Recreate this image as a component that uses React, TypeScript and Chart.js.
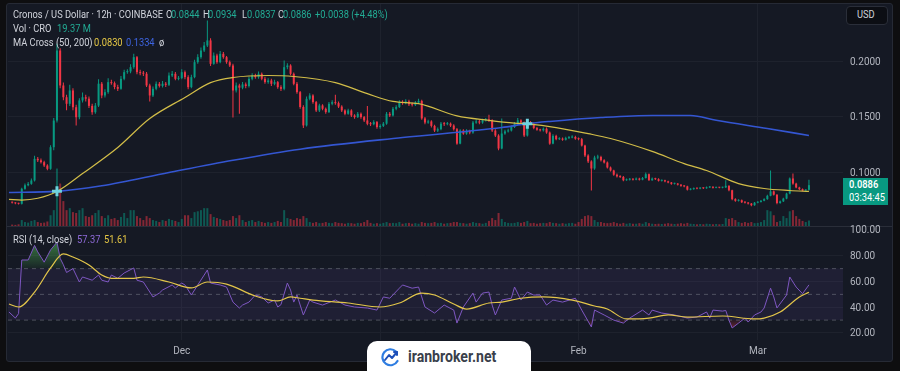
import React, { useEffect, useRef } from "react";
import { Chart, registerables } from "chart.js";

Chart.register(...registerables);

// ---------------- DATA ----------------
const firstOpen = 0.073;
const closes = [
  0.0728,0.0722,0.0718,0.0853,0.0885,0.0898,0.0928,0.1123,0.1110,0.1093,
  0.1063,0.1033,0.1228,0.1468,0.2099,0.1784,0.1678,0.1619,0.1739,0.1588,
  0.1498,0.1649,0.1678,0.1665,0.1600,0.1543,0.1603,0.1800,0.1694,0.1724,
  0.1814,0.1805,0.1770,0.1754,0.1844,0.1904,0.1910,0.1949,0.2039,0.1904,
  0.1895,0.1890,0.1784,0.1694,0.1754,0.1799,0.1780,0.1800,0.1790,0.1874,
  0.1889,0.1844,0.1850,0.1904,0.1859,0.1769,0.1859,0.1994,0.2039,0.2099,
  0.2144,0.2190,0.1979,0.2054,0.1994,0.2069,0.2039,0.1994,0.1964,0.1739,
  0.1784,0.1764,0.1794,0.1779,0.1844,0.1874,0.1859,0.1889,0.1844,0.1814,
  0.1829,0.1799,0.1814,0.1769,0.1754,0.1949,0.1964,0.1889,0.1799,0.1724,
  0.1590,0.1424,0.1664,0.1694,0.1634,0.1559,0.1604,0.1574,0.1544,0.1619,
  0.1634,0.1625,0.1594,0.1559,0.1529,0.1559,0.1514,0.1499,0.1529,0.1499,
  0.1469,0.1439,0.1435,0.1454,0.1409,0.1420,0.1440,0.1529,0.1514,0.1574,
  0.1589,0.1634,0.1625,0.1640,0.1615,0.1610,0.1630,0.1645,0.1487,0.1450,
  0.1460,0.1420,0.1378,0.1390,0.1440,0.1435,0.1440,0.1423,0.1390,0.1260,
  0.1378,0.1350,0.1375,0.1360,0.1450,0.1460,0.1450,0.1470,0.1475,0.1470,
  0.1378,0.1333,0.1216,0.1351,0.1370,0.1378,0.1410,0.1440,0.1470,0.1450,
  0.1333,0.1450,0.1440,0.1400,0.1385,0.1380,0.1395,0.1360,0.1260,0.1330,
  0.1300,0.1305,0.1295,0.1310,0.1315,0.1320,0.1305,0.1300,0.1243,0.1153,
  0.1100,0.1036,0.1135,0.1140,0.1110,0.1090,0.1045,0.1018,0.0980,0.0965,
  0.0960,0.0930,0.0935,0.0940,0.0935,0.0945,0.0935,0.0950,0.0985,0.0930,
  0.0945,0.0940,0.0925,0.0930,0.0920,0.0910,0.0898,0.0900,0.0890,0.0880,
  0.0875,0.0845,0.0850,0.0858,0.0855,0.0860,0.0858,0.0865,0.0870,0.0862,
  0.0865,0.0863,0.0866,0.0880,0.0840,0.0760,0.0745,0.0750,0.0732,0.0728,
  0.0720,0.0705,0.0728,0.0735,0.0745,0.0760,0.0790,0.0830,0.0800,0.0725,
  0.0740,0.0765,0.0810,0.0946,0.0900,0.0865,0.0850,0.0838,0.0844,0.0886,
];
const highs = [
  0.0738,0.0733,0.0728,0.0862,0.0900,0.0915,0.0945,0.1150,0.1140,0.1125,
  0.1105,0.1075,0.1245,0.1490,0.2160,0.2120,0.1810,0.1700,0.1790,0.1760,
  0.1610,0.1670,0.1720,0.1700,0.1685,0.1620,0.1625,0.1840,0.1815,0.1750,
  0.1850,0.1835,0.1820,0.1790,0.1870,0.1925,0.1930,0.1975,0.2070,0.2050,
  0.1925,0.1915,0.1905,0.1800,0.1775,0.1820,0.1815,0.1825,0.1815,0.1900,
  0.1915,0.1905,0.1870,0.1930,0.1920,0.1875,0.1880,0.2015,0.2065,0.2125,
  0.2175,0.2370,0.2210,0.2080,0.2070,0.2095,0.2085,0.2050,0.2010,0.1980,
  0.1810,0.1800,0.1815,0.1810,0.1865,0.1895,0.1890,0.1910,0.1900,0.1860,
  0.1850,0.1845,0.1835,0.1825,0.1785,0.2010,0.1985,0.1975,0.1900,0.1815,
  0.1735,0.1605,0.1685,0.1715,0.1705,0.1645,0.1620,0.1615,0.1585,0.1635,
  0.1650,0.1700,0.1640,0.1605,0.1570,0.1575,0.1570,0.1525,0.1545,0.1540,
  0.1510,0.1600,0.1455,0.1470,0.1465,0.1435,0.1455,0.1545,0.1545,0.1590,
  0.1605,0.1650,0.1650,0.1660,0.1655,0.1630,0.1645,0.1665,0.1655,0.1500,
  0.1475,0.1470,0.1430,0.1405,0.1455,0.1455,0.1455,0.1450,0.1435,0.1400,
  0.1390,0.1390,0.1390,0.1385,0.1465,0.1480,0.1475,0.1485,0.1490,0.1520,
  0.1480,0.1390,0.1345,0.1486,0.1385,0.1395,0.1425,0.1455,0.1490,0.1480,
  0.1460,0.1470,0.1465,0.1450,0.1410,0.1395,0.1405,0.1405,0.1370,0.1345,
  0.1340,0.1318,0.1315,0.1322,0.1328,0.1335,0.1330,0.1315,0.1310,0.1250,
  0.1165,0.1110,0.1150,0.1160,0.1150,0.1120,0.1100,0.1055,0.1025,0.0990,
  0.0975,0.0968,0.0945,0.0950,0.0948,0.0955,0.0952,0.0960,0.1000,0.0990,
  0.0955,0.0952,0.0948,0.0938,0.0935,0.0926,0.0915,0.0908,0.0905,0.0896,
  0.0886,0.0880,0.0857,0.0864,0.0863,0.0866,0.0865,0.0873,0.0878,0.0875,
  0.0871,0.0870,0.0872,0.0930,0.0885,0.0845,0.0768,0.0758,0.0756,0.0740,
  0.0734,0.0725,0.0735,0.0742,0.0752,0.0768,0.0800,0.1018,0.0838,0.0805,
  0.0748,0.0772,0.0818,0.0955,0.0990,0.0908,0.0872,0.0856,0.0850,0.0934,
];
const lows = [
  0.0720,0.0715,0.0712,0.0712,0.0845,0.0875,0.0890,0.0920,0.1095,0.1080,
  0.1050,0.1020,0.1025,0.1200,0.1450,0.1760,0.1650,0.1560,0.1600,0.1560,
  0.1423,0.1480,0.1630,0.1640,0.1580,0.1520,0.1530,0.1590,0.1670,0.1675,
  0.1710,0.1790,0.1750,0.1735,0.1745,0.1830,0.1890,0.1895,0.1935,0.1885,
  0.1875,0.1870,0.1770,0.1640,0.1680,0.1740,0.1765,0.1765,0.1770,0.1780,
  0.1860,0.1830,0.1830,0.1840,0.1840,0.1750,0.1760,0.1850,0.1980,0.2025,
  0.2085,0.2130,0.1960,0.1970,0.1980,0.1985,0.2025,0.1980,0.1950,0.1496,
  0.1720,0.1530,0.1750,0.1760,0.1765,0.1830,0.1845,0.1845,0.1830,0.1800,
  0.1800,0.1780,0.1785,0.1755,0.1735,0.1740,0.1930,0.1875,0.1785,0.1710,
  0.1575,0.1400,0.1415,0.1650,0.1620,0.1545,0.1545,0.1560,0.1530,0.1535,
  0.1605,0.1610,0.1580,0.1545,0.1515,0.1520,0.1500,0.1485,0.1490,0.1485,
  0.1455,0.1425,0.1420,0.1425,0.1395,0.1395,0.1410,0.1430,0.1500,0.1505,
  0.1560,0.1580,0.1610,0.1615,0.1600,0.1595,0.1600,0.1620,0.1475,0.1435,
  0.1440,0.1405,0.1365,0.1365,0.1380,0.1420,0.1425,0.1410,0.1378,0.1250,
  0.1255,0.1340,0.1340,0.1345,0.1350,0.1440,0.1435,0.1440,0.1460,0.1455,
  0.1365,0.1320,0.1200,0.1210,0.1340,0.1360,0.1370,0.1400,0.1430,0.1440,
  0.1320,0.1325,0.1430,0.1390,0.1375,0.1370,0.1370,0.1350,0.1250,0.1255,
  0.1290,0.1292,0.1285,0.1288,0.1302,0.1308,0.1295,0.1290,0.1235,0.1140,
  0.1085,0.0838,0.1025,0.1120,0.1100,0.1080,0.1035,0.1008,0.0970,0.0955,
  0.0950,0.0922,0.0925,0.0928,0.0928,0.0930,0.0928,0.0930,0.0945,0.0925,
  0.0925,0.0932,0.0918,0.0918,0.0912,0.0903,0.0890,0.0892,0.0882,0.0872,
  0.0868,0.0838,0.0840,0.0845,0.0849,0.0850,0.0852,0.0853,0.0860,0.0856,
  0.0857,0.0857,0.0858,0.0860,0.0832,0.0750,0.0737,0.0738,0.0725,0.0720,
  0.0712,0.0695,0.0700,0.0722,0.0730,0.0740,0.0755,0.0785,0.0792,0.0715,
  0.0718,0.0735,0.0760,0.0805,0.0890,0.0858,0.0842,0.0830,0.0832,0.0837,
];
// volume in millions of CRO
const volumesM = [
  5,4,6,21,14,12,18,21,14,11,
  12,16,38,56,203,150,88,56,63,49,
  46,56,63,35,32,38,46,56,35,28,
  38,25,28,21,32,46,28,56,56,35,
  28,21,35,28,21,18,14,21,18,25,
  21,18,14,25,38,38,28,49,52,56,
  63,63,42,32,28,25,21,18,21,35,
  28,38,21,14,18,21,14,18,14,11,
  14,11,14,18,14,56,28,25,21,28,
  25,35,28,14,11,14,10,11,14,11,
  10,14,11,10,8,11,10,8,11,10,
  14,21,11,8,10,8,11,14,10,11,
  10,14,8,10,11,8,10,8,14,11,
  10,11,14,10,11,8,10,11,14,14,
  11,10,8,10,14,11,10,8,11,18,
  28,21,46,25,14,11,10,11,14,11,
  14,18,10,11,8,10,11,10,14,11,
  10,8,10,8,10,11,8,14,25,35,
  38,35,21,14,14,11,10,11,14,10,
  8,11,8,10,8,8,10,8,14,10,
  8,7,8,7,8,10,8,7,8,10,
  8,11,8,7,6,7,6,8,7,6,
  7,6,7,28,25,28,21,14,11,14,
  11,14,10,11,14,21,56,52,38,14,
  18,35,28,52,56,35,25,18,14,19.37,
];
const ma50Bars = [-1,3,8,14,22,33,43,54,62,69,80,88,101,111,119,127,139,149,157,161,170,180,187,200,210,217,227,235,243,249];
const ma50Vals = [0.0758,0.0752,0.0768,0.0829,0.0990,0.1225,0.1486,0.1676,0.1810,0.1856,0.1874,0.1865,0.1810,0.1710,0.1640,0.1620,0.1510,0.1470,0.1445,0.1438,0.1405,0.1350,0.1306,0.1190,0.1080,0.1018,0.0900,0.0856,0.0838,0.0830];
const ma200Bars = [-1,14,28,49,69,90,122,153,161,168,184,200,212,220,236,249];
const ma200Vals = [0.0820,0.0830,0.0880,0.1000,0.1110,0.1210,0.1315,0.1405,0.1440,0.1460,0.1495,0.1514,0.1514,0.1470,0.1396,0.1334];
const crossBars = [14, 161];
const crossVals = [0.0830, 0.1440];

const rsiBars = [-1,1,2,3,5,7,8,10,12,14,15,16,17,19,21,22,25,27,28,30,31,33,35,38,39,41,44,46,47,50,51,53,54,56,58,60,61,62,65,67,69,71,72,74,76,78,80,82,83,84,86,87,88,89,91,93,94,97,101,104,107,111,114,116,118,121,122,125,127,128,129,132,135,138,139,141,144,145,147,149,150,151,153,156,157,159,161,163,165,167,169,172,176,178,181,182,185,188,191,193,197,199,200,203,207,211,214,217,218,219,222,223,224,225,227,229,230,232,234,235,237,238,239,242,243,245,247,249];
const rsiVals = [36.3,31.6,35.0,76.7,76.7,88.0,83.0,75.0,84.5,90.6,78.0,73.0,67.0,70.0,59.6,63.5,61.0,65.0,61.0,59.6,65.0,62.5,66.6,70.5,61.0,59.6,48.0,51.0,53.4,57.3,55.0,58.8,57.3,49.5,57.3,65.0,68.9,58.8,57.3,55.7,44.0,39.4,41.7,44.0,49.5,48.0,43.3,45.6,40.2,42.0,58.8,53.4,44.0,49.5,34.0,45.6,44.0,41.7,45.6,41.7,40.2,39.4,37.8,48.0,47.0,54.8,57.3,54.8,55.7,48.0,40.2,35.5,41.7,37.8,27.7,40.2,51.0,44.0,51.0,51.8,41.7,34.0,45.6,47.0,55.7,45.6,51.8,49.5,49.5,41.7,45.6,44.0,47.0,37.8,24.7,37.8,34.0,30.0,27.7,31.6,37.8,34.0,37.8,35.5,34.0,31.6,32.4,36.3,31.6,37.8,37.0,37.5,30.0,23.9,27.7,31.6,28.5,34.0,36.3,39.4,54.8,48.0,39.4,49.5,63.5,55.7,50.5,57.37];
const rsiMaBars = [-1,2,7,12,16,19,24,28,31,38,41,49,56,61,67,76,83,87,90,94,105,115,121,128,132,138,142,149,153,159,166,175,182,186,192,199,205,211,222,232,235,240,246,249];
const rsiMaVals = [42.5,40.2,51.8,70.5,81.4,79.0,72.8,65.0,62.5,62.5,63.5,59.6,55.0,59.6,58.0,48.7,44.9,48.0,47.0,45.6,43.3,40.2,43.3,51.0,49.5,42.5,38.6,43.3,44.0,47.0,48.0,45.6,41.0,38.6,30.9,31.6,34.0,32.4,33.2,30.9,31.6,36.3,48.0,51.61];
const rsiLevels = [70, 50, 30];

const priceTicks = [0.1, 0.15, 0.2];
const rsiTicks = [20, 40, 60, 80, 100];
const monthBars = [53, 115, 177, 233];
const monthLabels = ["Dec", "Jan", "Feb", "Mar"];

// ---------------- LAYOUT / STYLE ----------------
const X_MIN = -1.3;
const X_MAX = 259.64;
const PRICE_MIN = 0.0518;
const PRICE_MAX = 0.2518;
const VOL_MAX = 784;
const RSI_MIN = 14.56;
const RSI_MAX = 102.33;

const UP = "#089981";
const DOWN = "#f23645";
const GRID = "#1e222d";
const AXIS_TEXT = "#b2b5be";
const PANEL = "#151924";
const FONT = "Roboto, 'Noto Sans', sans-serif";

const pts = (xs: number[], ys: number[]) => xs.map((x, i) => ({ x, y: ys[i] }));

function noPad(s: any) {
  s.paddingTop = 0;
  s.paddingBottom = 0;
  s.paddingLeft = 0;
  s.paddingRight = 0;
}

function xAxis(labels: boolean): any {
  return {
    type: "linear",
    min: X_MIN,
    max: X_MAX,
    offset: false,
    afterBuildTicks: (s: any) => {
      s.ticks = monthBars.map((v) => ({ value: v }));
    },
    afterFit: (s: any) => {
      s.height = labels ? 22 : 0;
      noPad(s);
    },
    grid: { color: GRID, drawTicks: false, offset: false },
    border: { display: false },
    ticks: {
      display: labels,
      autoSkip: false,
      maxRotation: 0,
      padding: 5,
      color: AXIS_TEXT,
      font: { family: FONT, size: 10 },
      callback: (v: number) => {
        const k = monthBars.indexOf(v);
        return k >= 0 ? monthLabels[k] : "";
      },
    },
  };
}

function Txt(props: { x: number; y: number; c: string; children: any; w?: number; size?: number }) {
  return (
    <div
      style={{
        position: "absolute",
        left: props.x,
        top: props.y - 7,
        height: 14,
        lineHeight: "14px",
        fontSize: props.size || 10,
        fontWeight: props.w || 400,
        color: props.c,
        whiteSpace: "nowrap",
        transform: "scaleX(0.93)",
        transformOrigin: "left center",
      }}
    >
      {props.children}
    </div>
  );
}

export default function App() {
  const priceRef = useRef<HTMLCanvasElement>(null);
  const rsiRef = useRef<HTMLCanvasElement>(null);

  useEffect(() => {
    const opens = closes.map((c, i) => (i === 0 ? firstOpen : closes[i - 1]));
    const upFlags = closes.map((c, i) => c >= opens[i]);
    const candleColors = upFlags.map((u) => (u ? UP : DOWN));
    const volColors = upFlags.map((u) => (u ? "rgba(8,153,129,0.5)" : "rgba(242,54,69,0.5)"));

    const common: any = {
      responsive: false,
      animation: false,
      events: [],
      plugins: { legend: { display: false }, tooltip: { enabled: false } },
    };

    const priceChart = new Chart(priceRef.current as HTMLCanvasElement, {
      type: "bar",
      data: {
        datasets: [
          {
            type: "bar",
            data: volumesM.map((v, i) => ({ x: i, y: v })),
            yAxisID: "yVol",
            backgroundColor: volColors,
            barThickness: 2,
            grouped: false,
            inflateAmount: 0,
            order: 10,
          },
          {
            type: "bar",
            data: highs.map((h, i) => ({ x: i, y: [lows[i], h] })),
            yAxisID: "y",
            backgroundColor: candleColors,
            barThickness: 1,
            grouped: false,
            inflateAmount: 0,
            order: 6,
          },
          {
            type: "bar",
            data: closes.map((c, i) => ({ x: i, y: [opens[i], c] })),
            yAxisID: "y",
            backgroundColor: candleColors,
            barThickness: 2,
            minBarLength: 1,
            grouped: false,
            inflateAmount: 0,
            order: 5,
          },
          {
            type: "line",
            data: pts(ma200Bars, ma200Vals),
            yAxisID: "y",
            borderColor: "#3456d2",
            borderWidth: 1.6,
            pointRadius: 0,
            cubicInterpolationMode: "monotone",
            order: 3,
          },
          {
            type: "line",
            data: pts(ma50Bars, ma50Vals),
            yAxisID: "y",
            borderColor: "#d2bd48",
            borderWidth: 1.2,
            pointRadius: 0,
            cubicInterpolationMode: "monotone",
            order: 2,
          },
          {
            type: "line",
            data: pts(crossBars, crossVals),
            yAxisID: "y",
            showLine: false,
            pointStyle: "cross",
            pointRadius: 5,
            pointBorderWidth: 3,
            pointBorderColor: "#6fd2de",
            pointBackgroundColor: "#6fd2de",
            order: 1,
          },
        ] as any,
      },
      options: {
        ...common,
        layout: { padding: { left: 4, right: 0, top: 0, bottom: 0 }, autoPadding: false },
        scales: {
          x: xAxis(false),
          y: {
            type: "linear",
            position: "right",
            min: PRICE_MIN,
            max: PRICE_MAX,
            afterBuildTicks: (s: any) => {
              s.ticks = priceTicks.map((v) => ({ value: v }));
            },
            afterFit: (s: any) => {
              s.width = 50;
              noPad(s);
            },
            grid: { color: GRID, drawTicks: false },
            border: { display: false },
            ticks: {
              padding: 7,
              labelOffset: 1,
              color: AXIS_TEXT,
              font: { family: FONT, size: 10 },
              callback: (v: any) => Number(v).toFixed(4),
            },
          },
          yVol: { type: "linear", display: false, min: 0, max: VOL_MAX },
        },
      } as any,
    });

    const rsiChart = new Chart(rsiRef.current as HTMLCanvasElement, {
      type: "line",
      data: {
        datasets: [
          {
            data: [
              { x: X_MIN, y: rsiLevels[0] },
              { x: X_MAX, y: rsiLevels[0] },
            ],
            borderColor: "transparent",
            borderWidth: 0,
            pointRadius: 0,
            fill: { target: { value: rsiLevels[2] }, above: "rgba(126,87,194,0.1)", below: "rgba(126,87,194,0.1)" },
            order: 20,
          },
          ...rsiLevels.map((lv) => ({
            data: [
              { x: X_MIN, y: lv },
              { x: X_MAX, y: lv },
            ],
            borderColor: "rgba(120,123,134,0.55)",
            borderWidth: 1,
            borderDash: [4, 4],
            pointRadius: 0,
            fill: false,
            order: 15,
          })),
          {
            data: pts(rsiBars, rsiVals),
            borderColor: "transparent",
            borderWidth: 0,
            pointRadius: 0,
            fill: { target: { value: 30 }, above: "transparent", below: "rgba(242,54,69,0.25)" },
            order: 12,
          },
          {
            data: pts(rsiBars, rsiVals),
            borderColor: "#7e57c2",
            borderWidth: 1,
            pointRadius: 0,
            fill: { target: { value: 70 }, above: "rgba(76,175,80,0.5)", below: "transparent" },
            order: 2,
          },
          {
            data: pts(rsiMaBars, rsiMaVals),
            borderColor: "#e3c64a",
            borderWidth: 1.2,
            pointRadius: 0,
            cubicInterpolationMode: "monotone",
            fill: false,
            order: 1,
          },
        ] as any,
      },
      options: {
        ...common,
        layout: { padding: { left: 4, right: 0, top: 5, bottom: 0 }, autoPadding: false },
        scales: {
          x: xAxis(true),
          y: {
            type: "linear",
            position: "right",
            min: RSI_MIN,
            max: RSI_MAX,
            afterBuildTicks: (s: any) => {
              s.ticks = rsiTicks.map((v) => ({ value: v }));
            },
            afterFit: (s: any) => {
              s.width = 50;
              noPad(s);
            },
            grid: {
              color: (ctx: any) => (ctx.tick && ctx.tick.value === 100 ? "transparent" : GRID),
              drawTicks: false,
            },
            border: { display: false },
            ticks: {
              padding: 7,
              labelOffset: 1,
              color: AXIS_TEXT,
              font: { family: FONT, size: 10 },
              callback: (v: any) => Number(v).toFixed(2),
            },
          },
        },
      } as any,
    });

    // gradient for overbought / oversold fills
    const ys: any = rsiChart.scales.y;
    const ctx = rsiChart.ctx;
    const gUp = ctx.createLinearGradient(0, ys.getPixelForValue(100), 0, ys.getPixelForValue(70));
    gUp.addColorStop(0, "rgba(76,175,80,0.9)");
    gUp.addColorStop(1, "rgba(76,175,80,0.08)");
    const gDn = ctx.createLinearGradient(0, ys.getPixelForValue(30), 0, ys.getPixelForValue(15));
    gDn.addColorStop(0, "rgba(242,54,69,0.08)");
    gDn.addColorStop(1, "rgba(242,54,69,0.8)");
    (rsiChart.data.datasets[5] as any).fill = { target: { value: 70 }, above: gUp, below: "transparent" };
    (rsiChart.data.datasets[4] as any).fill = { target: { value: 30 }, above: "transparent", below: gDn };
    rsiChart.update();

    return () => {
      priceChart.destroy();
      rsiChart.destroy();
    };
  }, []);

  const LBL = "#d1d4dc";
  const GREEN = "#22ab94";
  const YEL = "#e6c845";
  const BLUE = "#3d64e0";
  const PURP = "#8e6ad8";

  return (
    <div
      style={{
        position: "fixed",
        left: 0,
        top: 0,
        width: 900,
        height: 371,
        background: "#0e0e10",
        overflow: "hidden",
        fontFamily: FONT,
      }}
    >
      <div
        style={{
          position: "absolute",
          left: 6,
          top: 3,
          width: 885,
          height: 357,
          background: PANEL,
          border: "1px solid #262a35",
          borderRadius: 3,
        }}
      />
      {/* pane separator */}
      <div style={{ position: "absolute", left: 7, top: 226, width: 885, height: 1, background: "#2a2e39" }} />

      <canvas ref={priceRef} width={889} height={222} style={{ position: "absolute", left: 4, top: 4, width: 889, height: 222 }} />
      <canvas ref={rsiRef} width={889} height={140} style={{ position: "absolute", left: 4, top: 222, width: 889, height: 140 }} />

      {/* legend line 1 */}
      <Txt x={13} y={15} c={LBL}>Cronos / US Dollar · 12h · COINBASE</Txt>
      <Txt x={166} y={15} c={LBL}>O</Txt>
      <Txt x={171} y={15} c={GREEN}>0.0844</Txt>
      <Txt x={203} y={15} c={LBL}>H</Txt>
      <Txt x={208} y={15} c={GREEN}>0.0934</Txt>
      <Txt x={242} y={15} c={LBL}>L</Txt>
      <Txt x={247} y={15} c={GREEN}>0.0837</Txt>
      <Txt x={278} y={15} c={LBL}>C</Txt>
      <Txt x={283} y={15} c={GREEN}>0.0886</Txt>
      <Txt x={315} y={15} c={GREEN}>+0.0038 (+4.48%)</Txt>
      {/* legend line 2 */}
      <Txt x={13} y={29} c={LBL}>Vol · CRO</Txt>
      <Txt x={57} y={29} c={GREEN}>19.37 M</Txt>
      {/* legend line 3 */}
      <Txt x={13} y={43} c={LBL}>MA Cross (50, 200)</Txt>
      <Txt x={94} y={43} c={YEL}>0.0830</Txt>
      <Txt x={126} y={43} c={BLUE}>0.1334</Txt>
      <Txt x={159} y={43} c={LBL}>ø</Txt>
      {/* RSI legend */}
      <Txt x={13} y={240} c={LBL}>RSI (14, close)</Txt>
      <Txt x={77} y={240} c={PURP}>57.37</Txt>
      <Txt x={104} y={240} c={YEL}>51.61</Txt>

      {/* USD button */}
      <div
        style={{
          position: "absolute",
          left: 846,
          top: 6,
          width: 42,
          height: 19,
          background: "#0c0e14",
          border: "1px solid #2a2e39",
          borderRadius: 4,
          boxSizing: "border-box",
        }}
      />
      <Txt x={857} y={15} c={LBL}>USD</Txt>

      {/* last price label */}
      <div style={{ position: "absolute", left: 843, top: 178, width: 45, height: 27, background: UP }} />
      <Txt x={849} y={185} c="#ffffff" w={600}>0.0886</Txt>
      <Txt x={849} y={198} c="#ffffff">03:34:45</Txt>

      {/* watermark */}
      <div
        style={{
          position: "absolute",
          left: 367,
          top: 341,
          width: 164,
          height: 40,
          background: "#ffffff",
          borderRadius: 10,
        }}
      />
      <svg style={{ position: "absolute", left: 380, top: 347 }} width="22" height="20" viewBox="0 0 22 20">
        <path d="M16 4.5 A8 8 0 1 0 17.5 14" fill="none" stroke="#2f7de1" strokeWidth="2.2" strokeLinecap="round" />
        <polyline points="5,13 9,8 12,11 17,5" fill="none" stroke="#1d4fb8" strokeWidth="2" strokeLinecap="round" strokeLinejoin="round" />
        <polyline points="14,5 17,5 17,8" fill="none" stroke="#1d4fb8" strokeWidth="2" strokeLinecap="round" strokeLinejoin="round" />
      </svg>
      <div
        style={{
          position: "absolute",
          left: 408,
          top: 347,
          height: 20,
          lineHeight: "20px",
          fontSize: 16,
          fontWeight: 700,
          color: "#3a3f4b",
          whiteSpace: "nowrap",
          transform: "scaleX(0.88)",
          transformOrigin: "left center",
        }}
      >
        iranbroker.net
      </div>
    </div>
  );
}
